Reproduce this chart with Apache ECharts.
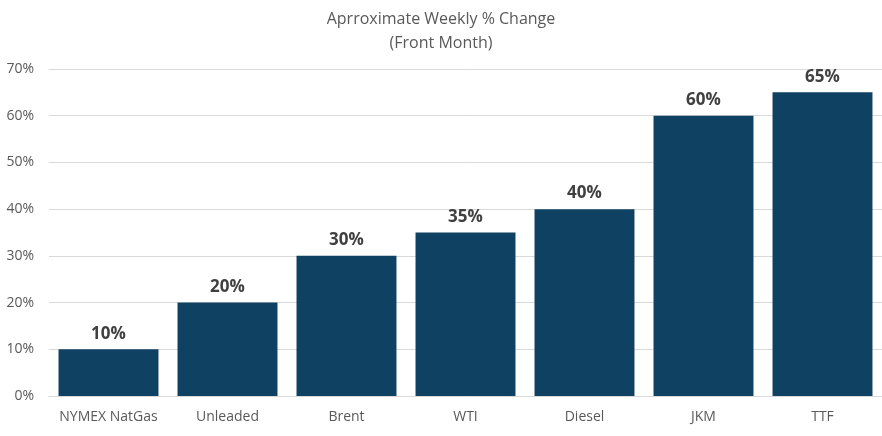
<!DOCTYPE html>
<html>
<head>
<meta charset="utf-8">
<script src="https://cdn.jsdelivr.net/npm/echarts@6/dist/echarts.min.js"></script>
<style>html,body{margin:0;padding:0;background:#fff;}#c{width:882px;height:436px;}</style>
</head>
<body>
<div id="c"></div>
<script>
const categories = ["NYMEX NatGas", "Unleaded", "Brent", "WTI", "Diesel", "JKM", "TTF"];
const values = [10, 20, 30, 35, 40, 60, 65];
const yTicks = [0, 10, 20, 30, 40, 50, 60, 70];

const chart = echarts.init(document.getElementById('c'));
chart.setOption({
  animation: false,
  title: {
    text: "Aprroximate Weekly % Change\n(Front Month)",
    left: 'center', top: 2,
    textStyle: { fontFamily: "Open Sans", fontWeight: 'normal', fontSize: 16, color: '#595959', lineHeight: 24 }
  },
  grid: { left: 49, right: 0, top: 69, bottom: 40 },
  xAxis: {
    type: 'category', data: categories,
    axisLine: { lineStyle: { color: '#d9d9d9' } },
    axisTick: { show: false },
    axisLabel: { interval: 0, fontFamily: "Open Sans", fontSize: 14, color: '#595959', margin: 14 }
  },
  yAxis: {
    type: 'value', min: yTicks[0], max: yTicks[yTicks.length - 1], interval: 10,
    axisLine: { show: false }, axisTick: { show: false },
    splitLine: { lineStyle: { color: '#d9d9d9' } },
    axisLabel: { fontFamily: "Open Sans", fontSize: 14, color: '#595959', margin: 15, formatter: v => v + '%' }
  },
  series: [{
    type: 'bar', data: values, barCategoryGap: '16%',
    itemStyle: { color: '#0F4262' },
    label: { show: true, position: 'top', distance: 7, formatter: p => p.value + '%',
      fontFamily: "Open Sans", fontWeight: 'bold', fontSize: 17, color: '#404040' }
  }]
});
</script>
</body>
</html>
